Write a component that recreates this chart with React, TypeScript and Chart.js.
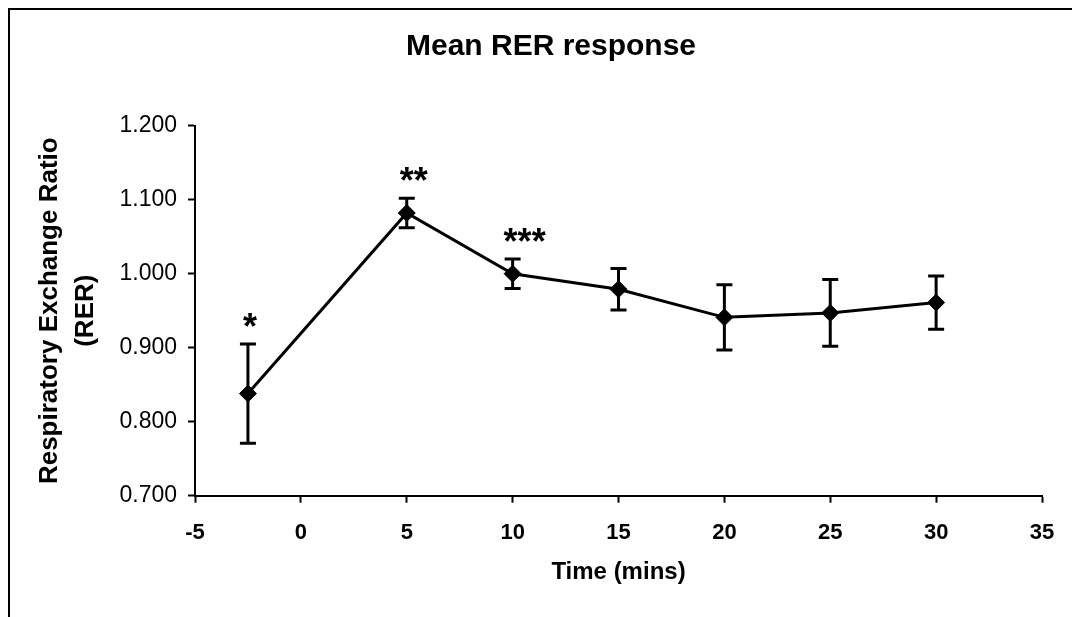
import React, { useEffect, useRef } from "react";
import { Chart, registerables } from "chart.js";

Chart.register(...registerables);

// ---- data ----
const timeMins = [-2.5, 5, 10, 15, 20, 25, 30];
const meanRER = [0.838, 1.082, 1.0, 0.979, 0.941, 0.947, 0.961];
const semRER = [0.067, 0.02, 0.02, 0.028, 0.044, 0.045, 0.036];
const significance = ["*", "**", "***", "", "", "", ""];
const xTickValues = [-5, 0, 5, 10, 15, 20, 25, 30, 35];
const yTickValues = [0.7, 0.8, 0.9, 1.0, 1.1, 1.2];

const chartTitle = "Mean RER response";
const xTitle = "Time (mins)";
const yTitle = ["Respiratory Exchange Ratio", "(RER)"];

const FONT = '"Liberation Sans", Arial, Helvetica, sans-serif';

const errorBarsPlugin = {
  id: "errorBars",
  beforeDatasetsDraw(chart: any) {
    const { ctx, scales } = chart;
    const x = scales.x;
    const y = scales.y;
    ctx.save();
    ctx.strokeStyle = "#000";
    ctx.lineWidth = 3;
    ctx.lineCap = "butt";
    timeMins.forEach((t, i) => {
      const px = x.getPixelForValue(t);
      const top = y.getPixelForValue(meanRER[i] + semRER[i]);
      const bot = y.getPixelForValue(meanRER[i] - semRER[i]);
      const cap = 8;
      ctx.beginPath();
      ctx.moveTo(px, top);
      ctx.lineTo(px, bot);
      ctx.moveTo(px - cap, top);
      ctx.lineTo(px + cap, top);
      ctx.moveTo(px - cap, bot);
      ctx.lineTo(px + cap, bot);
      ctx.stroke();
    });
    ctx.restore();
  },
};

const starsPlugin = {
  id: "stars",
  afterDatasetsDraw(chart: any) {
    const { ctx, scales } = chart;
    const x = scales.x;
    const y = scales.y;
    ctx.save();
    ctx.fillStyle = "#000";
    ctx.font = `bold 36px ${FONT}`;
    ctx.textAlign = "center";
    ctx.textBaseline = "middle";
    timeMins.forEach((t, i) => {
      const s = significance[i];
      if (!s) return;
      const px = x.getPixelForValue(t);
      const top = y.getPixelForValue(meanRER[i] + semRER[i]);
      ctx.fillText(s, px + 2 + (s.length - 1) * 5, top - 15);
    });
    ctx.restore();
  },
};

export default function App() {
  const ref = useRef<HTMLCanvasElement>(null);

  useEffect(() => {
    if (!ref.current) return;
    Chart.defaults.color = "#000";
    const chart = new Chart(ref.current, {
      type: "line",
      data: {
        datasets: [
          {
            data: timeMins.map((t, i) => ({ x: t, y: meanRER[i] })),
            borderColor: "#000",
            borderWidth: 3,
            pointStyle: "rectRot",
            pointRadius: 8.5,
            pointBackgroundColor: "#000",
            pointBorderColor: "#000",
            pointBorderWidth: 1,
            tension: 0,
            fill: false,
            yAxisID: "y",
            xAxisID: "x",
          },
        ],
      },
      options: {
        animation: false,
        responsive: false,
        devicePixelRatio: 1,
        layout: { padding: { left: 10, right: 0, top: 0, bottom: 10 } },
        plugins: {
          legend: { display: false },
          tooltip: { enabled: false },
          title: {
            display: true,
            text: chartTitle,
            color: "#000",
            font: { family: FONT, size: 30, weight: "bold", lineHeight: 1.2 },
            padding: { top: 19, bottom: 60.7 },
          },
        },
        scales: {
          x: {
            type: "linear",
            position: "bottom",
            min: -5,
            max: 35,
            afterBuildTicks: (s: any) => {
              s.ticks = xTickValues.map((v) => ({ value: v }));
            },
            afterFit: (s: any) => {
              s.height = 95.3;
            },
            grid: {
              drawOnChartArea: false,
              drawTicks: true,
              tickLength: 7,
              tickWidth: 2,
              tickColor: "#000",
            },
            border: { display: true, color: "#000", width: 2 },
            ticks: {
              color: "#000",
              padding: 17,
              maxRotation: 0,
              autoSkip: false,
              font: { family: FONT, size: 22, weight: "bold" },
              callback: (v: any) => String(v),
            },
            title: {
              display: true,
              text: xTitle,
              color: "#000",
              font: { family: FONT, size: 24, weight: "bold", lineHeight: 1.2 },
              padding: { top: 0, bottom: 4.6 },
            },
          },
          y: {
            type: "linear",
            position: "left",
            min: 0.7,
            max: 1.2,
            afterBuildTicks: (s: any) => {
              s.ticks = yTickValues.map((v) => ({ value: v }));
            },
            afterFit: (s: any) => {
              s.width = 175;
            },
            grid: {
              drawOnChartArea: false,
              drawTicks: true,
              tickLength: 7,
              tickWidth: 2,
              tickColor: "#000",
            },
            border: { display: true, color: "#000", width: 2 },
            ticks: {
              color: "#000",
              padding: 11,
              autoSkip: false,
              font: { family: FONT, size: 23 },
              callback: (v: any) => Number(v).toFixed(3),
            },
            title: {
              display: true,
              text: yTitle,
              color: "#000",
              font: { family: FONT, size: 26, weight: "bold", lineHeight: 1.385 },
              padding: { top: 12, bottom: 0 },
            },
          },
          yR: {
            type: "linear",
            position: "right",
            min: 0,
            max: 1,
            display: true,
            grid: { display: false },
            border: { display: false },
            ticks: { display: false },
            afterFit: (s: any) => {
              s.width = 40;
            },
          },
        },
      } as any,
      plugins: [errorBarsPlugin, starsPlugin],
    });
    return () => chart.destroy();
  }, []);

  return (
    <div
      style={{
        position: "fixed",
        left: 8,
        top: 8,
        width: 1200,
        height: 800,
        borderLeft: "2px solid #000",
        borderTop: "2px solid #000",
        overflow: "hidden",
        background: "#fff",
      }}
    >
      <canvas ref={ref} width={1072} height={591} style={{ display: "block" }} />
    </div>
  );
}
